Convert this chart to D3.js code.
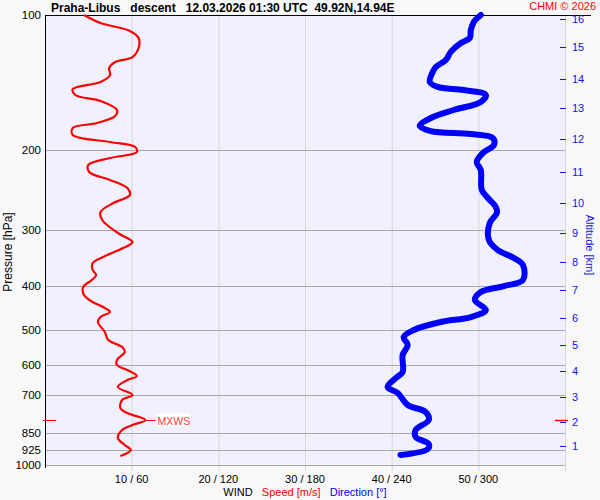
<!DOCTYPE html>
<html>
<head>
<meta charset="utf-8">
<script src="https://cdn.jsdelivr.net/npm/d3@7"></script>
<style>
  body { margin: 0; background: #f8f8f8; }
  text { font-family: "Liberation Sans", Arial, sans-serif; }
</style>
</head>
<body>
<div class="chart"></div>
<script>
var width = 600,
  height = 500;

// wind speed profile [hPa, m/s]
var speedP = [100, 104.2, 108.5, 112.5, 118.4, 124, 127.2, 131.2, 136, 140.9, 146.1, 150.6, 155.3, 162.6, 167.7,
  173.8, 178.3, 184.8, 191.5, 196.5, 201.6, 207.9, 215.4, 223.3, 232.6, 242.4, 251.2, 261.6, 274.1, 285.5,
  305.1, 319.5, 329.5, 345, 355.7, 368.7, 378.3, 388.1, 402.3, 419.2, 434.4, 445.7, 457.1, 469, 481.1,
  506.4, 527.6, 546.9, 561, 584.5, 599.6, 615.1, 634.3, 647.4, 671, 699, 717.1, 747.1, 766.5, 794.3,
  814.8, 836, 871, 902.8, 926.4, 955];
var speedV = [4.5, 6.4, 9.8, 10.8, 10.8, 10.1, 8.1, 7.4, 7.5, 6.4, 3.2, 3.5, 6.4, 8.3, 8.1,
  6.0, 3.2, 3.2, 7.5, 10.4, 10.6, 7.5, 5.0, 5.1, 7.5, 9.5, 9.8, 7.9, 6.4, 6.6,
  8.4, 10.1, 9.0, 6.7, 5.5, 5.5, 5.9, 5.4, 4.4, 4.5, 5.5, 6.7, 7.5, 6.4, 6.1,
  6.9, 7.3, 8.9, 9.2, 8.3, 8.3, 9.5, 10.6, 9.5, 8.4, 10.1, 8.9, 8.7, 9.5, 11.6,
  10.1, 8.9, 8.4, 9.2, 9.9, 8.7];

// wind direction profile [hPa, deg]
var dirP = [100, 103.6, 108, 112.5, 115.4, 120.8, 125.9, 130.5, 133.9, 140.9, 144.5, 146.8, 150.6, 156.1,
  162.6, 169.4, 176.5, 181.1, 183.9, 187.7, 194.5, 202.6, 212.1, 221, 244.9, 255.1, 267.1, 275.4, 290,
  316.2, 332.9, 346.7, 359.4, 388.1, 400.3, 412.7, 430, 452.4, 469, 481.1, 501.2, 519.4, 541.2, 569.6,
  621.5, 640.9, 671, 691.8, 735.6, 762.6, 794.3, 836, 866.5, 898.2, 921.3, 950.2];
var dirV = [301.7, 296.9, 294.8, 294.1, 287.9, 280.9, 277.5, 270.5, 268.4, 266.4, 271.9, 289.9, 305.2, 301.7,
  283.0, 267.1, 259.4, 267.1, 294.8, 310.1, 310.8, 303.1, 298.9, 301.7, 302.4, 306.6, 312.1, 312.8, 307.9,
  307.3, 313.5, 324.6, 330.9, 330.9, 317.7, 301.7, 297.6, 305.2, 294.8, 274.0, 255.3, 248.3, 251.1, 247.6,
  247.6, 242.8, 237.2, 244.2, 251.1, 263.6, 265.7, 256.6, 256.6, 265.7, 265.0, 246.1];

var pTicks = [100, 200, 300, 400, 500, 600, 700, 850, 925, 1000];
var speedTicks = [10, 20, 30, 40, 50];
var dirTicks = [60, 120, 180, 240, 300];
var altKm = [1, 2, 3, 4, 5, 6, 7, 8, 9, 10, 11, 12, 13, 14, 15, 16];
var altP = [907, 803, 706, 618, 541, 471, 409, 354, 305, 262, 223, 189, 161, 139, 118, 102];

var L = 45, R = 565, T = 15, B = 465;

var svg = d3.select('.chart')
  .append('svg')
  .attr('width', width)
  .attr('height', height)
  .style('display', 'block');

svg.append('rect').attr('width', width).attr('height', height).attr('fill', '#f8f8f8');

var yScale = d3.scaleLog().domain([100, 1000]).range([T, B]);
var xSpeed = d3.scaleLinear().domain([0, 60]).range([L, R]);
var xDir = d3.scaleLinear().domain([0, 360]).range([L, R]);

// plot background
svg.append('rect')
  .attr('x', L).attr('y', T).attr('width', R - L).attr('height', B - T)
  .attr('fill', '#f0f0fe');

// vertical grid
svg.selectAll('.vgrid')
  .data(speedTicks.concat([60]))
  .enter()
  .append('line')
  .attr('x1', function(d) { return xSpeed(d) + 0.5; })
  .attr('x2', function(d) { return xSpeed(d) + 0.5; })
  .attr('y1', T).attr('y2', B + 6)
  .attr('stroke', '#d8d8d8');

// horizontal grid
svg.selectAll('.hgrid')
  .data(pTicks.slice(1))
  .enter()
  .append('line')
  .attr('x1', L).attr('x2', R)
  .attr('y1', function(d) { return Math.round(yScale(d)) + 0.5; })
  .attr('y2', function(d) { return Math.round(yScale(d)) + 0.5; })
  .attr('stroke', '#a8a8a8');

// left axis
svg.append('line').attr('x1', L + 0.5).attr('x2', L + 0.5).attr('y1', T).attr('y2', B + 3)
  .attr('stroke', '#000');
svg.append('line').attr('x1', L).attr('x2', 591).attr('y1', T + 0.5).attr('y2', T + 0.5)
  .attr('stroke', '#000');

svg.selectAll('.plab')
  .data(pTicks)
  .enter()
  .append('text')
  .attr('x', 41)
  .attr('y', function(d) { return yScale(d) + 4; })
  .attr('text-anchor', 'end')
  .attr('font-size', '11.5px')
  .attr('fill', '#000')
  .text(function(d) { return d; });

svg.append('text')
  .attr('transform', 'translate(12,252) rotate(-90)')
  .attr('text-anchor', 'middle')
  .attr('font-size', '12px')
  .text('Pressure [hPa]');

// bottom labels
svg.selectAll('.xlab')
  .data(speedTicks)
  .enter()
  .append('text')
  .attr('x', function(d) { return xSpeed(d); })
  .attr('y', 483)
  .attr('text-anchor', 'middle')
  .attr('font-size', '11px')
  .text(function(d, i) { return d + ' / ' + dirTicks[i]; });

var leg = svg.append('text').attr('x', 305).attr('y', 496).attr('text-anchor', 'middle')
  .attr('font-size', '11px').style('white-space', 'pre');
leg.append('tspan').attr('fill', '#000').text('WIND   ');
leg.append('tspan').attr('fill', '#ff0000').text('Speed [m/s]   ');
leg.append('tspan').attr('fill', '#0000ff').text('Direction [°]');

// right altitude axis
svg.selectAll('.atick')
  .data(altP)
  .enter()
  .append('line')
  .attr('x1', 560).attr('x2', 566)
  .attr('y1', function(d) { return Math.round(yScale(d)) + 0.5; })
  .attr('y2', function(d) { return Math.round(yScale(d)) + 0.5; })
  .attr('stroke', '#1010e0');

svg.selectAll('.alab')
  .data(altKm)
  .enter()
  .append('text')
  .attr('x', 572)
  .attr('y', function(d, i) { return yScale(altP[i]) + 4; })
  .attr('font-size', '11px')
  .attr('fill', '#1515dd')
  .text(function(d) { return d; });

svg.append('text')
  .attr('transform', 'translate(586,245) rotate(90)')
  .attr('text-anchor', 'middle')
  .attr('font-size', '11px')
  .attr('fill', '#1515dd')
  .text('Altitude [km]');

// profiles
var speedData = speedP.map(function(p, i) { return [p, speedV[i]]; });
var dirData = dirP.map(function(p, i) { return [p, dirV[i]]; });

var dirLine = d3.line()
  .x(function(d) { return xDir(d[1]); })
  .y(function(d) { return yScale(d[0]); })
  .curve(d3.curveCatmullRom);

var speedLine = d3.line()
  .x(function(d) { return xSpeed(d[1]); })
  .y(function(d) { return yScale(d[0]); })
  .curve(d3.curveCatmullRom);

svg.append('path')
  .datum(dirData)
  .attr('d', dirLine)
  .attr('fill', 'none')
  .attr('stroke', '#0000ff')
  .attr('stroke-width', 6)
  .attr('stroke-linecap', 'round')
  .attr('stroke-linejoin', 'round');

svg.append('path')
  .datum(speedData)
  .attr('d', speedLine)
  .attr('fill', 'none')
  .attr('stroke', '#ff0000')
  .attr('stroke-width', 2.2)
  .attr('stroke-linejoin', 'round');

// MXWS marker
var iMax = d3.maxIndex(speedV);
var yMax = Math.round(yScale(speedP[iMax])) + 0.5;
var xMax = xSpeed(speedV[iMax]);

svg.append('line').attr('x1', 43).attr('x2', 56).attr('y1', yMax).attr('y2', yMax)
  .attr('stroke', '#ff0000').attr('stroke-width', 1);
svg.append('line').attr('x1', 555).attr('x2', 568).attr('y1', yMax).attr('y2', yMax)
  .attr('stroke', '#ff0000').attr('stroke-width', 1.5);
svg.append('line').attr('x1', xMax).attr('x2', xMax + 10).attr('y1', yMax).attr('y2', yMax)
  .attr('stroke', '#ff0000');
svg.append('rect').attr('x', xMax + 11).attr('y', yMax - 7).attr('width', 33).attr('height', 13)
  .attr('fill', '#ffffff');
svg.append('text')
  .attr('x', xMax + 12)
  .attr('y', yMax + 4)
  .attr('font-size', '10.5px')
  .attr('fill', '#ff4040')
  .text('MXWS');

// title
svg.append('text')
  .attr('x', 51)
  .attr('y', 12)
  .attr('font-size', '12px')
  .attr('font-weight', 'bold')
  .style('white-space', 'pre')
  .text('Praha-Libus   descent   12.03.2026 01:30 UTC  49.92N,14.94E');

svg.append('text')
  .attr('x', 596)
  .attr('y', 10)
  .attr('text-anchor', 'end')
  .attr('font-size', '11px')
  .attr('fill', '#ff0000')
  .text('CHMI © 2026');
</script>
</body>
</html>
